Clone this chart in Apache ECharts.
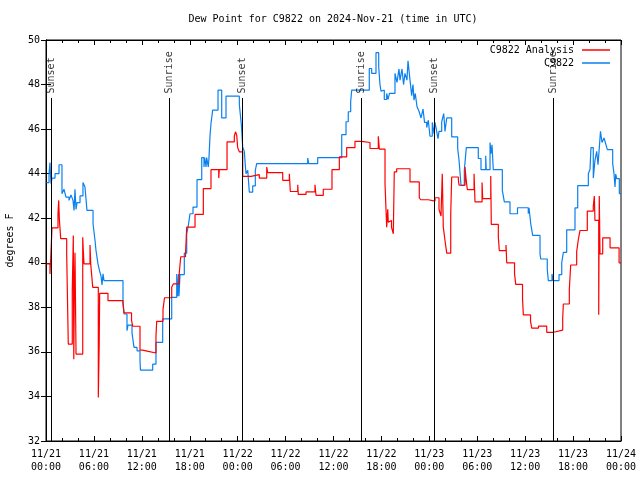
<!DOCTYPE html>
<html><head><meta charset="utf-8">
<script src="https://cdn.jsdelivr.net/npm/echarts@6/dist/echarts.min.js"></script>
<style>html,body{margin:0;padding:0;background:#fff}#c{width:640px;height:480px}</style>
</head><body><div id="c"></div>
<script>
const FONT = '"DejaVu Sans Mono", "Liberation Mono", monospace';
const titleText = 'Dew Point for C9822 on 2024-Nov-21 (time in UTC)';
const tickDates = ['11/21','11/21','11/21','11/21','11/22','11/22','11/22','11/22','11/23','11/23','11/23','11/23','11/24'];
const tickTimes = ['00:00','06:00','12:00','18:00','00:00','06:00','12:00','18:00','00:00','06:00','12:00','18:00','00:00'];

// hours since 2024-11-21 00:00 UTC, dew point in degrees F
const analysisHours = [0.05,0.50,0.63,0.75,1.50,1.59,1.67,1.84,2.59,2.79,3.29,3.42,3.48,3.54,3.63,3.76,4.60,4.67,4.76,5.51,5.60,5.85,6.55,6.66,6.72,7.76,9.64,9.77,10.71,10.86,11.77,12.11,12.81,13.77,13.86,14.65,14.84,15.74,15.94,16.69,16.87,17.47,17.62,18.66,19.70,20.66,21.63,21.70,22.67,23.58,23.73,23.88,24.00,24.21,24.63,25.67,26.71,27.64,27.76,29.64,30.47,30.59,31.52,31.59,32.56,33.68,33.81,34.72,35.81,36.73,37.65,38.69,39.53,40.57,41.61,41.74,42.45,42.66,42.79,42.86,43.08,43.26,43.49,43.61,43.91,45.58,46.74,46.92,47.87,48.71,49.21,49.46,49.62,49.75,49.96,50.18,50.68,50.80,51.63,51.72,52.47,52.59,52.76,53.60,53.72,54.60,54.68,55.69,55.76,56.64,56.76,57.60,57.69,58.67,58.82,59.67,59.77,60.67,60.82,61.67,62.70,63.55,63.74,64.70,64.78,65.53,65.70,66.45,66.68,66.87,67.78,68.53,68.66,68.74,69.21,69.28,69.37,69.71,70.63,71.76,72.0];
const analysisValues = [39.95,39.5,40.55,41.57,42.2,42.8,41.97,41.08,40.4,36.35,38.75,41.22,35.67,38.5,40.45,35.9,41.15,40.55,39.95,40.8,39.95,38.9,33.95,36.3,38.63,38.3,38.2,37.75,37.43,37.15,36.08,36.02,35.95,36.7,37.37,37.9,38.43,38.9,39.05,39.55,40.27,40.4,41.6,42.17,43.33,44.18,43.8,44.18,45.43,45.68,45.88,45.73,45.17,44.98,43.88,43.96,43.8,44.3,44.05,43.7,44.0,43.2,43.5,43.07,43.18,43.5,43.03,43.3,44.18,44.75,45.17,45.45,45.4,45.13,45.68,45.1,43.55,41.6,42.4,41.82,41.9,41.6,41.3,44.08,44.22,43.63,42.92,42.83,42.77,42.92,42.4,42.1,44.0,41.6,41.0,40.43,42.2,43.85,43.75,43.48,44.3,43.8,43.28,44.0,42.73,43.6,42.88,43.9,41.72,41.15,40.55,40.8,40.0,39.5,39.03,38.38,37.66,37.38,37.07,37.16,36.88,36.95,36.98,37.5,38.15,38.8,39.9,40.5,41.1,41.45,42.32,42.54,43.0,41.9,37.67,43.0,40.4,41.12,40.67,40.0,40.0];

const obsHours = [0.05,0.38,0.50,0.56,0.63,0.75,1.13,1.63,2.00,2.25,2.50,2.88,3.13,3.38,3.51,3.57,3.63,3.76,3.88,4.26,4.63,4.88,5.13,5.89,6.14,6.26,6.51,6.70,6.89,7.01,7.14,7.26,9.64,9.77,10.14,10.27,10.77,11.02,11.40,11.77,11.83,13.36,13.77,14.61,15.74,16.37,16.47,16.59,16.65,16.78,17.32,17.62,17.82,18.03,18.41,18.91,19.50,19.78,19.87,20.04,20.12,20.32,20.41,20.54,20.66,20.87,21.54,22.00,22.54,24.21,24.46,24.63,24.83,25.04,25.26,25.46,25.88,26.21,26.38,32.77,32.90,34.02,37.03,37.57,37.85,38.15,38.28,40.48,40.78,41.32,41.66,41.82,41.95,42.07,42.36,42.66,42.83,43.01,43.70,43.95,44.20,44.33,44.58,44.77,44.95,45.20,45.33,45.58,45.79,45.95,46.08,46.24,46.46,46.71,46.96,47.21,47.40,47.67,47.87,48.08,48.37,48.59,48.71,48.92,49.09,49.21,49.55,49.80,49.88,49.96,50.18,50.80,51.55,51.72,51.97,52.38,52.63,54.13,54.47,55.06,55.13,55.60,55.72,55.85,56.01,57.14,57.39,58.10,59.04,60.39,60.48,60.70,60.94,61.86,61.95,62.77,62.90,63.36,63.49,64.24,64.58,64.78,65.20,66.24,66.58,67.91,68.12,68.24,68.53,68.74,68.96,69.12,69.25,69.43,69.62,69.87,70.04,70.29,70.96,71.13,71.25,71.34,71.46,71.79,72.0];
const obsValues = [43.6,44.0,44.5,44.0,43.55,43.8,44.0,44.4,43.1,43.3,42.95,42.8,43.05,42.8,42.35,42.8,43.3,42.4,42.7,43.0,43.6,43.4,42.35,41.75,41.0,40.55,39.95,39.65,39.4,39.0,39.5,39.2,38.2,37.7,36.95,37.2,36.85,36.2,36.05,35.6,35.18,35.45,36.43,37.48,38.45,39.5,38.5,39.5,38.5,39.47,40.43,41.3,41.67,42.2,42.5,43.73,44.72,44.3,44.72,44.3,44.72,44.3,44.72,45.73,46.25,46.85,47.75,46.5,47.48,47.1,46.2,45.2,45.0,44.0,44.15,43.17,43.45,44.15,44.45,44.7,44.45,44.72,45.75,46.33,46.78,47.23,47.75,48.72,48.5,49.43,48.8,48.0,47.7,47.75,47.33,47.6,47.33,47.6,48.5,48.1,48.7,48.2,48.7,48.0,48.5,48.2,49.07,48.2,47.5,48.0,47.3,47.6,47.0,46.8,46.5,46.9,46.3,46.07,46.4,45.68,46.3,45.8,46.3,45.9,45.57,45.9,46.33,46.7,46.33,45.9,46.5,45.65,45.13,44.6,43.47,44.15,45.17,44.68,44.18,44.8,44.18,45.4,44.9,45.3,44.18,43.25,42.73,42.2,42.47,42.2,42.47,41.75,41.23,40.4,40.17,39.7,39.2,39.5,39.2,39.47,40.0,40.47,41.48,42.46,43.46,44.0,44.2,45.17,43.8,44.6,45.0,44.4,45.0,45.9,45.4,45.6,45.4,45.08,44.45,43.98,43.4,43.98,43.78,43.1,43.1];

const sunHours = [0.71,15.44,24.58,39.53,48.62,63.52];
const sunLabels = ['Sunset','Sunrise','Sunset','Sunrise','Sunset','Sunrise'];
const sunLineTop = 47.4;
const sunLabelBase = 47.6;

const zip = (a, b) => a.map((v, i) => [v, b[i]]);

const chart = echarts.init(document.getElementById('c'), null, {renderer: 'canvas'});
const txt = {fontFamily: FONT, fontSize: 10, color: '#000'};
const xBase = {
  type: 'value', min: 0, max: 72, interval: 6,
  splitLine: {show: false},
  axisLine: {show: true, lineStyle: {color: '#000', width: 1}},
  axisTick: {show: true, inside: true, length: 5, lineStyle: {color: '#000'}},
  minorTick: {show: true, splitNumber: 3, length: 3, lineStyle: {color: '#000'}},
};
const yBase = {
  type: 'value', min: 32, max: 50, interval: 2,
  splitLine: {show: false},
  axisLine: {show: true, lineStyle: {color: '#000', width: 1}},
  axisTick: {show: true, inside: true, length: 5, lineStyle: {color: '#000'}},
};
chart.setOption({
  backgroundColor: '#fff',
  animation: false,
  textStyle: txt,
  grid: {left: 46, right: 19, top: 40, bottom: 39, show: true, borderColor: '#000', borderWidth: 1,
         containLabel: false, outerBoundsMode: 'none'},
  graphic: [{
    type: 'text', x: 333, y: 19,
    style: {text: titleText, font: '10px ' + FONT, fill: '#000', align: 'center', verticalAlign: 'middle', textAlign: 'center', textVerticalAlign: 'middle'}
  }],
  legend: {
    data: ['C9822 Analysis', 'C9822'],
    orient: 'vertical', right: 30, top: 45, align: 'right', padding: 0,
    icon: 'rect', itemWidth: 28, itemHeight: 1.5, itemGap: 3,
    textStyle: {fontFamily: FONT, fontSize: 10, color: '#000', padding: [0, 3, 0, 0], lineHeight: 10},
    selectedMode: false
  },
  xAxis: [
    Object.assign({}, xBase, {
      position: 'bottom',
      axisLabel: {
        fontFamily: FONT, fontSize: 10, color: '#000', margin: 7, lineHeight: 13,
        formatter: v => { const i = Math.round(v / 6); return tickDates[i] + '\n' + tickTimes[i]; }
      }
    }),
    Object.assign({}, xBase, {position: 'top', axisLabel: {show: false}})
  ],
  yAxis: [
    Object.assign({}, yBase, {
      position: 'left',
      name: 'degrees F', nameLocation: 'middle', nameGap: 31, nameRotate: 90,
      nameTextStyle: {fontFamily: FONT, fontSize: 10, color: '#000'},
      axisLabel: {fontFamily: FONT, fontSize: 10, color: '#000', margin: 6}
    }),
    Object.assign({}, yBase, {position: 'right', axisLabel: {show: false}})
  ],
  series: [
    {
      name: 'C9822 Analysis', type: 'line', step: 'end', symbol: 'none',
      data: zip(analysisHours, analysisValues),
      lineStyle: {color: '#ff0000', width: 1.2}, itemStyle: {color: '#ff0000'}, z: 3
    },
    {
      name: 'C9822', type: 'line', step: 'end', symbol: 'none',
      data: zip(obsHours, obsValues),
      lineStyle: {color: '#0a80f0', width: 1.2}, itemStyle: {color: '#0a80f0'}, z: 2
    },
    {
      name: 'sun', type: 'scatter', symbolSize: 0, silent: true, z: 4,
      data: sunHours.map((h, i) => [h, sunLabelBase, sunLabels[i]]),
      label: {
        show: true, rotate: 90, position: 'inside', align: 'left', verticalAlign: 'middle',
        fontFamily: FONT, fontSize: 10, color: '#000',
        formatter: p => p.data[2]
      },
      markLine: {
        silent: true, symbol: ['none', 'none'], animation: false,
        label: {show: false},
        lineStyle: {color: '#000', width: 1, type: 'solid'},
        data: sunHours.map(h => [{coord: [h, 32]}, {coord: [h, sunLineTop]}])
      }
    }
  ]
});
</script>
</body></html>
